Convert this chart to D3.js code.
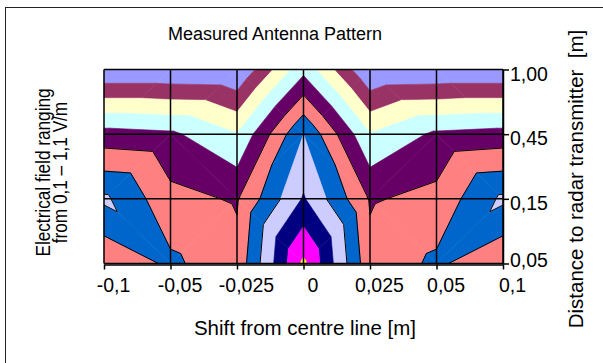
<!DOCTYPE html>
<html>
<head>
<meta charset="utf-8">
<script src="https://cdn.jsdelivr.net/npm/d3@7"></script>
<style>
  body { margin: 0; background: #fff; }
  svg { display: block; font-family: "Liberation Sans", Arial, sans-serif; }
</style>
</head>
<body>
<svg id="chart" width="603" height="363"></svg>
<script>
// categories
const shifts = ['-0,1', '-0,05', '-0,025', '0', '0,025', '0,05', '0,1'];
const distances = ['1,00', '0,45', '0,15', '0,05'];

// measured field [V/m], one array per distance, one value per shift
const field100 = [0.108, 0.108, 0.10, 0.47, 0.10, 0.108, 0.108];
const field045 = [0.54, 0.52, 0.405, 0.80, 0.405, 0.52, 0.54];
const field015 = [0.82, 0.63, 0.59, 0.91, 0.59, 0.63, 0.82];
const field005 = [0.61, 0.72, 0.63, 1.12, 0.63, 0.72, 0.61];
const field = [field100, field045, field015, field005];

// contour levels and the band colours between them
const levels = [0.2, 0.3, 0.4, 0.5, 0.6, 0.7, 0.8, 0.9, 1.0, 1.1];
const bandColors = ['#9999ff', '#993366', '#ffffcc', '#ccffff', '#660066',
  '#ff8080', '#0066cc', '#ccccff', '#000080', '#ff00ff', '#ffff00'];
const outlinedLevels = [0.6, 0.7, 0.8];

const svg = d3.select('#chart');
const plot = { left: 104, right: 503, top: 69.5, bottom: 263.5 };

const x = d3.scalePoint().domain(shifts).range([plot.left, plot.right]);
const y = d3.scalePoint().domain(distances).range([plot.top, plot.bottom]);
// fractional grid positions -> pixels
const xi = d3.scaleLinear().domain([0, shifts.length - 1]).range([x(shifts[0]), x(shifts[shifts.length - 1])]);
const yi = d3.scaleLinear().domain([0, distances.length - 1]).range([y(distances[0]), y(distances[distances.length - 1])]);

// frame
svg.append('rect')
  .attr('x', 5.5).attr('y', 7.5).attr('width', 700).attr('height', 400)
  .attr('fill', 'none').attr('stroke', '#222').attr('stroke-width', 1);

// split every grid cell in 2 triangles, along the diagonal with the larger sum
const triangles = [];
for (let j = 0; j < distances.length - 1; j++) {
  for (let i = 0; i < shifts.length - 1; i++) {
    const a = { x: i, y: j, v: field[j][i] };
    const b = { x: i + 1, y: j, v: field[j][i + 1] };
    const c = { x: i + 1, y: j + 1, v: field[j + 1][i + 1] };
    const d = { x: i, y: j + 1, v: field[j + 1][i] };
    if (a.v + c.v >= b.v + d.v) triangles.push([a, b, c], [a, c, d]);
    else triangles.push([a, b, d], [b, c, d]);
  }
}

function clip(poly, t, above) {
  const out = [];
  poly.forEach((p, k) => {
    const q = poly[(k + 1) % poly.length];
    const pin = above ? p.v >= t : p.v <= t;
    const qin = above ? q.v >= t : q.v <= t;
    if (pin) out.push(p);
    if (pin !== qin) {
      const f = (t - p.v) / (q.v - p.v);
      out.push({ x: p.x + f * (q.x - p.x), y: p.y + f * (q.y - p.y), v: t });
    }
  });
  return out;
}

const line = d3.line().x(p => xi(p.x)).y(p => yi(p.y));

const bands = svg.append('g').attr('class', 'bands');
bandColors.forEach((color, k) => {
  const lo = k === 0 ? -Infinity : levels[k - 1];
  const hi = k === levels.length ? Infinity : levels[k];
  triangles.forEach(tri => {
    let poly = clip(tri, lo, true);
    if (poly.length < 3) return;
    poly = clip(poly, hi, false);
    if (poly.length < 3) return;
    bands.append('path')
      .attr('d', line(poly) + 'Z')
      .attr('fill', color)
      .attr('stroke', color)
      .attr('stroke-width', 0.6)
      .attr('stroke-linejoin', 'round');
  });
});

// contour lines
const contourG = svg.append('g').attr('class', 'contours');
outlinedLevels.forEach(t => {
  triangles.forEach(tri => {
    const pts = [];
    tri.forEach((p, k) => {
      const q = tri[(k + 1) % 3];
      if ((p.v - t) * (q.v - t) < 0) {
        const f = (t - p.v) / (q.v - p.v);
        pts.push({ x: p.x + f * (q.x - p.x), y: p.y + f * (q.y - p.y) });
      }
    });
    if (pts.length === 2) {
      contourG.append('path')
        .attr('d', line(pts))
        .attr('fill', 'none')
        .attr('stroke', '#000')
        .attr('stroke-width', 1);
    }
  });
});

// grid
const grid = svg.append('g').attr('stroke', '#000').attr('stroke-width', 1.5);
shifts.forEach(s => {
  grid.append('line').attr('x1', x(s)).attr('x2', x(s)).attr('y1', plot.top).attr('y2', plot.bottom);
});
distances.forEach(d => {
  grid.append('line').attr('x1', plot.left).attr('x2', plot.right).attr('y1', y(d)).attr('y2', y(d));
});

// bottom axis
const xAxis = svg.append('g')
  .attr('transform', `translate(0,${plot.bottom + 1})`)
  .call(d3.axisBottom(x).tickSize(5).tickSizeOuter(0).tickPadding(9));
xAxis.selectAll('.domain, line').attr('stroke', '#000').attr('stroke-width', 1.5);
xAxis.selectAll('text')
  .attr('font-size', 19.5).attr('fill', '#000')
  .attr('font-family', '"Liberation Sans", Arial, sans-serif')
  .attr('dx', 9);

// right axis
const yAxis = svg.append('g')
  .attr('transform', `translate(${plot.right},0)`)
  .call(d3.axisRight(y).tickSize(6).tickSizeOuter(0).tickPadding(1));
yAxis.selectAll('.domain, line').attr('stroke', '#000').attr('stroke-width', 1.5);
yAxis.selectAll('text')
  .attr('font-size', 19.5).attr('fill', '#000')
  .attr('font-family', '"Liberation Sans", Arial, sans-serif')
  .attr('y', (d, i) => i === distances.length - 1 ? -3.5 : 4.5);

// titles
svg.append('text')
  .attr('x', 275).attr('y', 40).attr('text-anchor', 'middle')
  .attr('font-size', 18).text('Measured Antenna Pattern');

svg.append('text')
  .attr('x', 305).attr('y', 335).attr('text-anchor', 'middle')
  .attr('font-size', 20.5).text('Shift from centre line [m]');

svg.append('text')
  .attr('transform', 'translate(583,179) rotate(-90)')
  .attr('text-anchor', 'middle').attr('font-size', 20.5)
  .style('white-space', 'pre')
  .text('Distance to radar transmitter  [m]');

svg.append('text')
  .attr('transform', 'translate(49.5,172.5) rotate(-90) scale(0.86,1)')
  .attr('text-anchor', 'middle').attr('font-size', 20)
  .text('Electrical field ranging');

svg.append('text')
  .attr('transform', 'translate(67,172.5) rotate(-90) scale(0.86,1)')
  .attr('text-anchor', 'middle').attr('font-size', 20)
  .text('from 0,1 \u2013 1,1 V/m');
</script>
</body>
</html>
